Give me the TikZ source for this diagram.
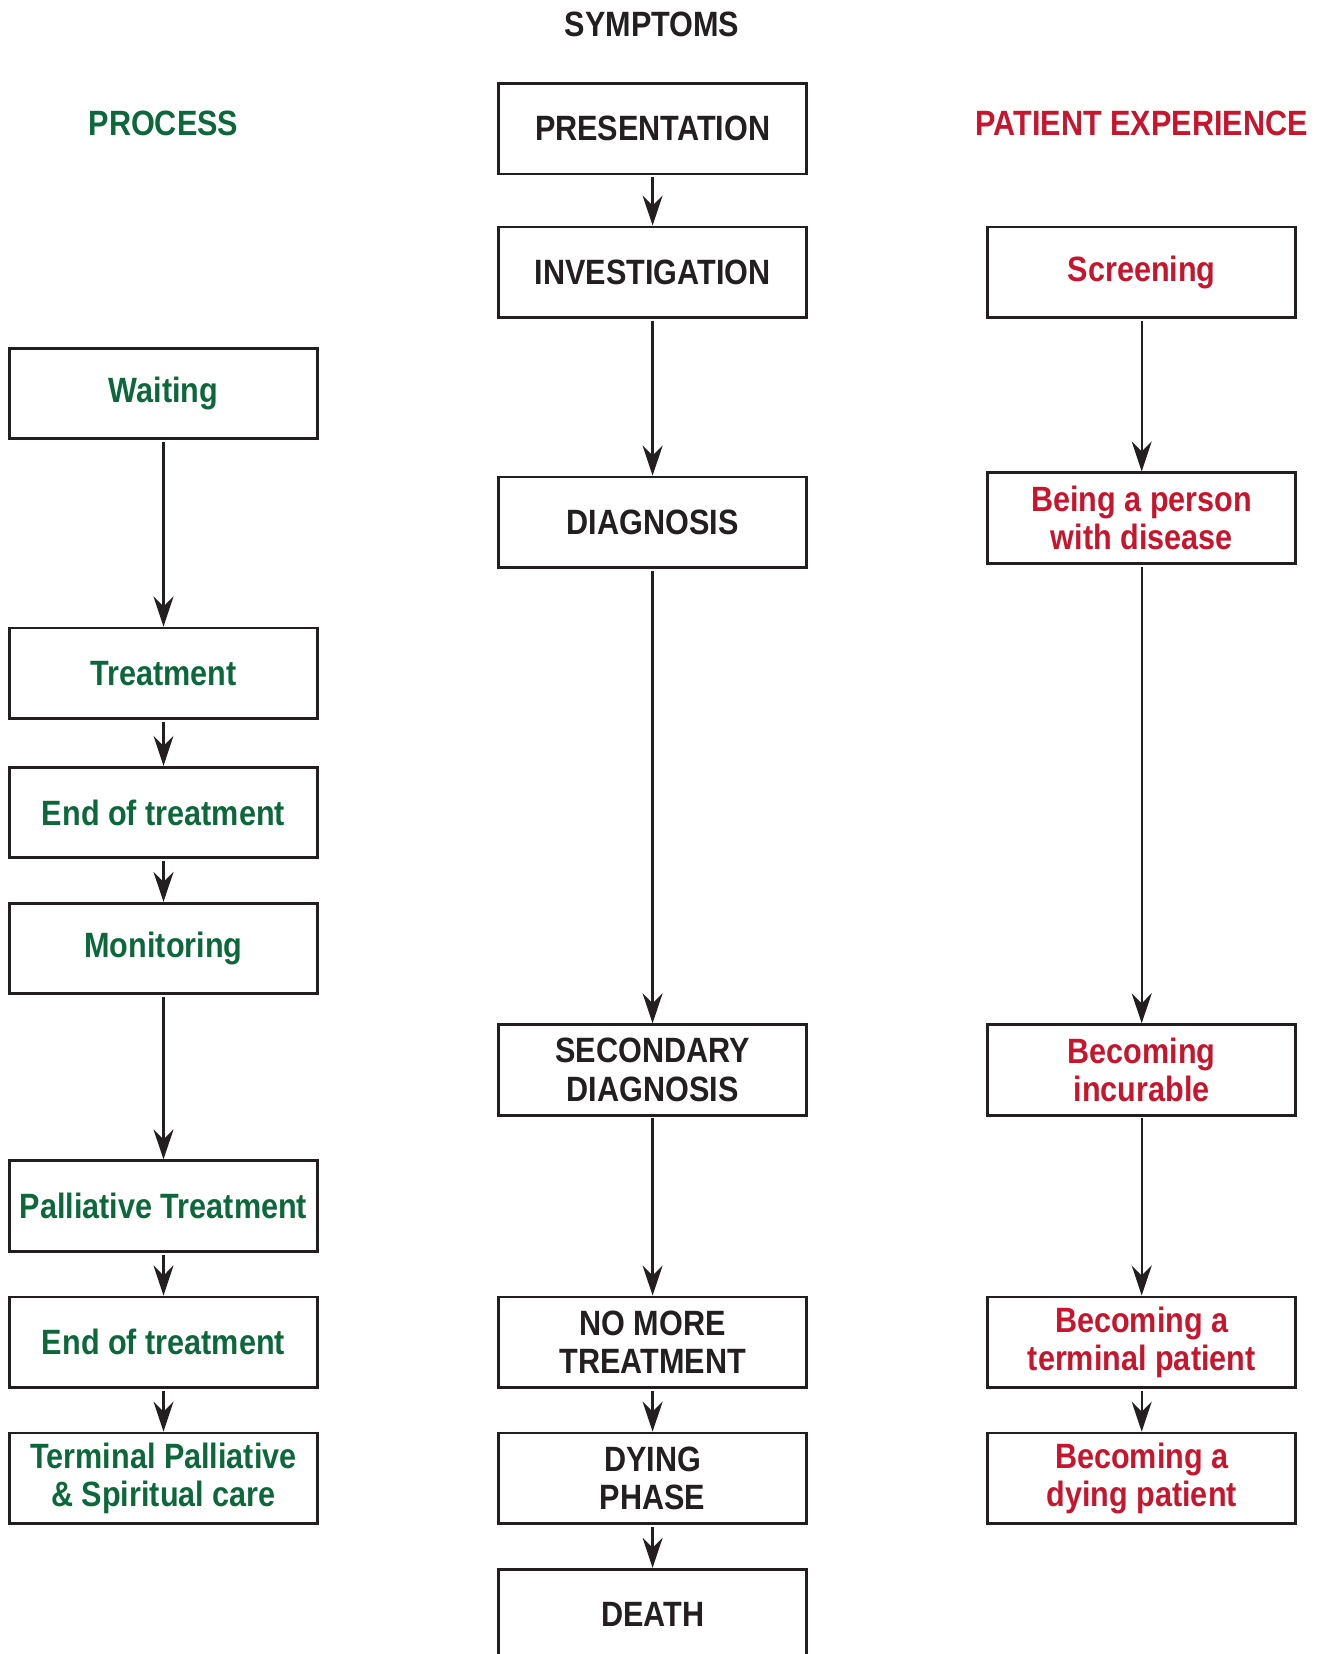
\documentclass[tikz,border=0pt]{standalone}
\usepackage{fontspec}
\setmainfont[FakeStretch=0.87]{Liberation Sans}
\usetikzlibrary{arrows.meta}
\definecolor{pgreen}{RGB}{12,104,58}
\definecolor{pred}{RGB}{198,22,46}
\definecolor{pdark}{RGB}{35,31,32}
\begin{document}
\begin{tikzpicture}[x=0.01cm,y=-0.01cm,
  boxbase/.style={draw=pdark,line width=0.8pt,minimum width=3.08cm,minimum height=0.905cm,
    inner sep=1pt,align=center,font=\fontsize{10}{10.9}\selectfont\bfseries},
  gbox/.style={boxbase,text=pgreen},
  kbox/.style={boxbase,text=pdark},
  rbox/.style={boxbase,text=pred},
  hdr/.style={font=\fontsize{10}{10.9}\selectfont\bfseries},
  arr/.style={draw=pdark,line width=0.65pt,-{Stealth[length=0.3cm,width=0.2cm,inset=0.1cm]},shorten <=0.5pt}
]
\useasboundingbox (0,0) rectangle (1319,1654);
% headers
\node[hdr,text=pdark] (hs) at (652,24) {SYMPTOMS};
\node[hdr,text=pgreen] (hp) at (163.5,123) {PROCESS};
\node[hdr,text=pred] (he) at (1141.7,123) {PATIENT EXPERIENCE};
% middle column
\node[kbox] (pres) at (652.6,128.7) {PRESENTATION};
\node[kbox] (inv) at (652.6,272.2) {INVESTIGATION};
\node[kbox] (diag) at (652.6,522.3) {DIAGNOSIS};
\node[kbox] (sec) at (652.6,1070) {SECONDARY\\DIAGNOSIS};
\node[kbox] (nomore) at (652.6,1342.2) {NO MORE\\TREATMENT};
\node[kbox] (dying) at (652.6,1478.3) {DYING\\PHASE};
\node[kbox] (death) at (652.6,1614.5) {DEATH};
% left column
\node[gbox] (wait) at (163.5,393.6) {Waiting};
\node[gbox] (treat) at (163.5,673.2) {Treatment};
\node[gbox] (end1) at (163.5,812.5) {End of treatment};
\node[gbox] (mon) at (163.5,948.6) {Monitoring};
\node[gbox] (pall) at (163.5,1206.1) {Palliative Treatment};
\node[gbox] (end2) at (163.5,1342.2) {End of treatment};
\node[gbox] (term) at (163.5,1478.3) {Terminal Palliative\\\& Spiritual care};
% right column
\node[rbox] (scr) at (1141.7,272.2) {Screening};
\node[rbox] (being) at (1141.7,518.1) {Being a person\\with disease};
\node[rbox] (incur) at (1141.7,1070) {Becoming\\incurable};
\node[rbox] (btp) at (1141.7,1342.2) {Becoming a\\terminal patient};
\node[rbox] (bdp) at (1141.7,1478.3) {Becoming a\\dying patient};
% arrows
\draw[arr] (pres) -- (inv);
\draw[arr] (inv) -- (diag);
\draw[arr] (diag) -- (sec);
\draw[arr] (sec) -- (nomore);
\draw[arr] (nomore) -- (dying);
\draw[arr] (dying) -- (death);
\draw[arr] (wait) -- (treat);
\draw[arr] (treat) -- (end1);
\draw[arr] (end1) -- (mon);
\draw[arr] (mon) -- (pall);
\draw[arr] (pall) -- (end2);
\draw[arr] (end2) -- (term);
\draw[arr] (scr) -- (being);
\draw[arr] (being) -- (incur);
\draw[arr] (incur) -- (btp);
\draw[arr] (btp) -- (bdp);
\end{tikzpicture}
\end{document}
